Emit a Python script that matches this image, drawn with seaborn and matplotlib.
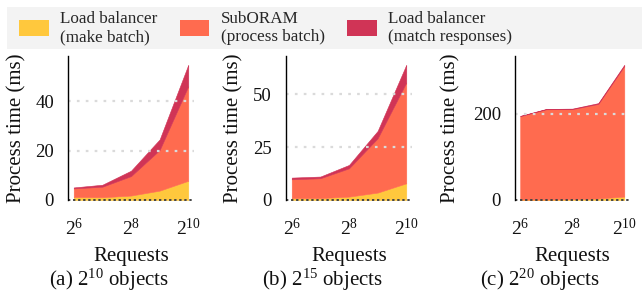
import matplotlib
matplotlib.use("Agg")
import matplotlib.pyplot as plt
import seaborn as sns
import numpy as np
from matplotlib.patches import Patch, Rectangle
from matplotlib.ticker import FixedLocator, FuncFormatter, NullLocator

# ---- data ----
requests = [64, 128, 256, 512, 1024]
series_labels = ["Load balancer\n(make batch)", "SubORAM\n(process batch)",
                 "Load balancer\n(match responses)"]
colors = ["#FFC83D", "#FF6B4F", "#D03456"]

a_make = [1.2, 1.1, 1.8, 3.8, 7.8]
a_process = [3.5, 4.3, 7.9, 16.5, 38.4]
a_match = [0.4, 0.8, 2.2, 4.3, 8.7]

b_make = [0.9, 0.9, 1.6, 3.5, 7.9]
b_process = [8.9, 9.4, 13.4, 25.7, 47.7]
b_match = [0.8, 0.8, 1.6, 3.5, 8.4]

c_make = [0.9, 0.9, 1.6, 3.6, 7.9]
c_process = [193.7, 209.6, 209.2, 219.4, 303.1]
c_match = [0.6, 0.8, 1.2, 1.8, 2.7]

yticks_a = [0, 20, 40]
yticks_b = [0, 25, 50]
yticks_c = [0, 200]
xticks = [64, 256, 1024]
captions = ["(a) $2^{10}$ objects", "(b) $2^{15}$ objects", "(c) $2^{20}$ objects"]

sns.set_theme(style="white")
plt.rcParams["font.family"] = ["Liberation Serif", "DejaVu Serif"]
plt.rcParams["mathtext.fontset"] = "custom"
plt.rcParams["mathtext.rm"] = "Liberation Serif"
plt.rcParams["mathtext.it"] = "Liberation Serif:italic"
plt.rcParams["mathtext.bf"] = "Liberation Serif:bold"

fig = plt.figure(figsize=(6.42, 2.97), dpi=100)
W, H = 642.0, 297.0

# legend band
fig.patches.append(Rectangle((7 / W, 1 - 49 / H), 635 / W, 42 / H,
                             transform=fig.transFigure, facecolor="#F3F3F3",
                             edgecolor="none", zorder=0))

panels = [
    (a_make, a_process, a_match, yticks_a, 68, 194, 17, 109),
    (b_make, b_process, b_match, yticks_b, 286, 412, 234, 322),
    (c_make, c_process, c_match, yticks_c, 515, 629.5, 451, 540),
]
top_px, bot_px = 56, 200

for i, (mk, pr, mt, yt, x0, x1, ylab_x, cap_x) in enumerate(panels):
    ax = fig.add_axes([x0 / W, 1 - bot_px / H, (x1 - x0) / W, (bot_px - top_px) / H])
    ax.stackplot(requests, mk, pr, mt, colors=colors, linewidth=0.4,
                 edgecolor="face", zorder=1)
    ax.set_xscale("log", base=2)
    ax.set_xlim(2 ** 5.8, 2 ** 10.2)
    total = np.array(mk) + np.array(pr) + np.array(mt)
    ax.set_ylim(0, total.max() * 1.065)
    ax.xaxis.set_major_locator(FixedLocator(xticks))
    ax.xaxis.set_minor_locator(NullLocator())
    ax.xaxis.set_major_formatter(FuncFormatter(lambda v, p: "$2^{%d}$" % round(np.log2(v))))
    ax.set_yticks(yt)
    ax.tick_params(axis="both", length=0, labelsize=13.5, colors="#111111")
    ax.tick_params(axis="x", labelsize=14)
    ax.tick_params(axis="y", pad=10)
    ax.tick_params(axis="x", pad=13)
    for s in ["top", "right", "bottom"]:
        ax.spines[s].set_visible(False)
    ax.spines["left"].set_color("black")
    ax.spines["left"].set_linewidth(1.0)
    ax.spines["left"].set_zorder(5)
    for v in yt[1:]:
        ax.axhline(v, color="#DADADA", linestyle=(0, (1.2, 2.8)), linewidth=1.6, zorder=3)
    ax.axhline(0, color="#444444", linestyle=(0, (1.2, 1.4)), linewidth=1.4, zorder=4,
               clip_on=False)
    ax.set_xlabel("Requests", fontsize=15, color="#111111", va="center")
    ax.set_ylabel("Process time (ms)", fontsize=15, color="#111111", va="center")
    ax.yaxis.set_label_coords(ylab_x / W, 1 - 128 / H, transform=fig.transFigure)
    ax.xaxis.set_label_coords((x0 + x1) / 2 / W, 1 - 257 / H, transform=fig.transFigure)
    fig.text(cap_x / W, 1 - 280 / H, captions[i], fontsize=15, ha="center", va="center",
             color="#111111")

handles = [Patch(facecolor=c, edgecolor="none") for c in colors]
fig.legend(handles, series_labels, loc="center left", bbox_to_anchor=(19 / W, 1 - 28 / H),
           ncol=3, frameon=False, fontsize=12.3, handlelength=1.75, handleheight=1.1,
           handletextpad=0.65, columnspacing=1.3, borderaxespad=0, borderpad=0)

fig.savefig("out.png", dpi=100)
